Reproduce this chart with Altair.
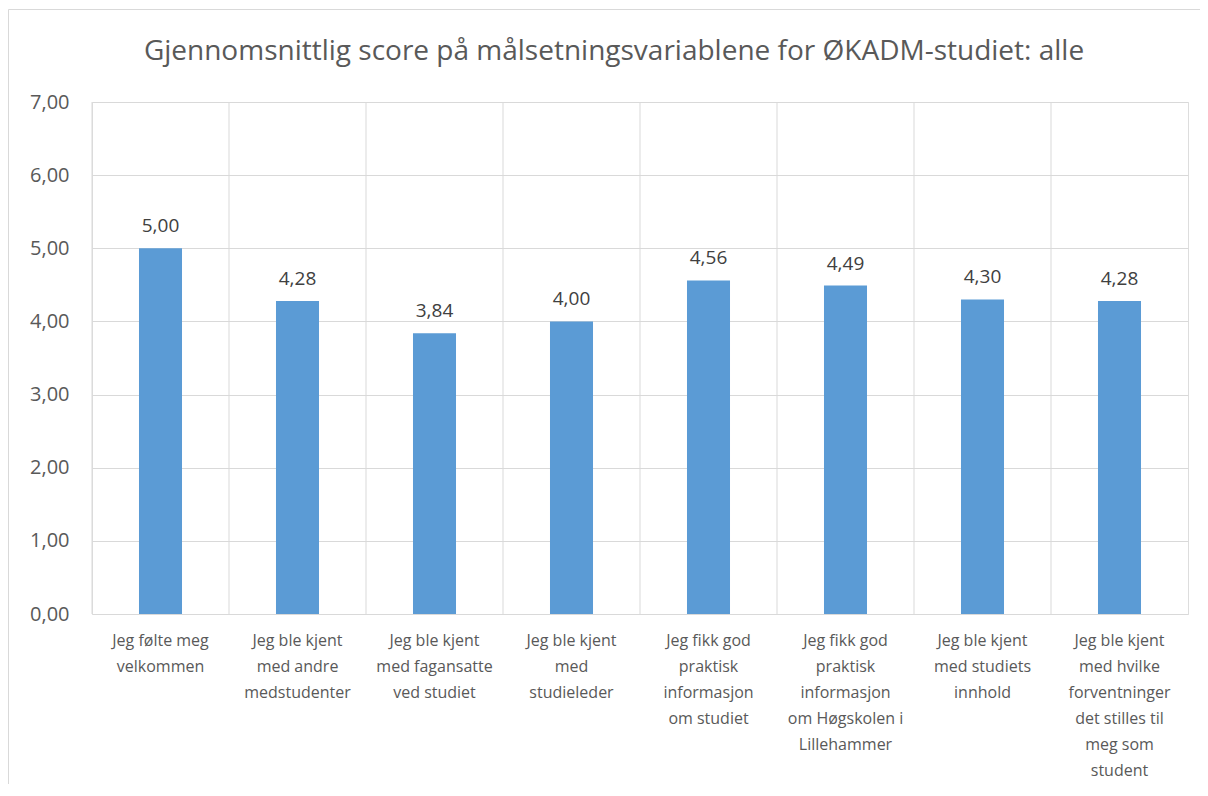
import altair as alt
import pandas as pd

title_text = "Gjennomsnittlig score på målsetningsvariablene for ØKADM-studiet: alle"
categories = [
    "Jeg følte meg\nvelkommen",
    "Jeg ble kjent\nmed andre\nmedstudenter",
    "Jeg ble kjent\nmed fagansatte\nved studiet",
    "Jeg ble kjent\nmed\nstudieleder",
    "Jeg fikk god\npraktisk\ninformasjon\nom studiet",
    "Jeg fikk god\npraktisk\ninformasjon\nom Høgskolen i\nLillehammer",
    "Jeg ble kjent\nmed studiets\ninnhold",
    "Jeg ble kjent\nmed hvilke\nforventninger\ndet stilles til\nmeg som\nstudent",
]
scores = [5.00, 4.28, 3.84, 4.00, 4.56, 4.49, 4.30, 4.28]
y_ticks = [0, 1, 2, 3, 4, 5, 6, 7]

df = pd.DataFrame({"cat": categories, "score": scores})

FONT = "Open Sans"
TEXT = "#595959"
GRID = "#d9d9d9"
W, H = 1096, 512

x_axis = alt.Axis(
    title=None, labelAngle=0, domain=False, ticks=False,
    labelExpr="split(datum.label, '\\n')", labelFont=FONT, labelFontSize=16,
    labelLineHeight=26, labelColor=TEXT, labelPadding=18, labelLimit=0,
    labelBaseline="top", grid=False,
)
x_scale = alt.Scale(paddingInner=0, paddingOuter=0)

base = alt.Chart(df)

vgrid = base.mark_rule(color=GRID, strokeWidth=1).encode(
    x=alt.X("cat:N", sort=categories, scale=x_scale, axis=x_axis, bandPosition=0)
)

bars = base.mark_bar(color="#5b9bd5", width=alt.RelativeBandSize(0.314)).encode(
    x=alt.X("cat:N", sort=categories, scale=x_scale, axis=x_axis),
    y=alt.Y(
        "score:Q",
        scale=alt.Scale(domain=[0, 7], nice=False),
        axis=alt.Axis(
            title=None, values=y_ticks, domain=False, ticks=False,
            labelExpr="replace(format(datum.value, '.2f'), '.', ',')",
            labelFont=FONT, labelFontSize=20, labelColor=TEXT, labelPadding=23,
            gridColor=GRID, gridWidth=1,
        ),
    ),
)

labels = base.mark_text(
    dy=-16, baseline="alphabetic", font=FONT, fontSize=19, color="#404040"
).transform_calculate(
    lab="replace(format(datum.score, '.2f'), '.', ',')"
).encode(
    x=alt.X("cat:N", sort=categories, scale=x_scale, axis=x_axis),
    y=alt.Y("score:Q"),
    text="lab:N",
)

first = "datum.cat == '" + categories[0].replace("\n", "\\n") + "'"
frame_top = base.mark_rule(color=GRID, strokeWidth=1).encode(
    x=alt.value(-83.5), x2=alt.value(W + 200), y=alt.value(-92.5)
).transform_filter(first)
frame_left = base.mark_rule(color=GRID, strokeWidth=1).encode(
    x=alt.value(-83.5), y=alt.value(-92.5), y2=alt.value(H + 400)
).transform_filter(first)

chart = alt.layer(vgrid, bars, labels, frame_top, frame_left).properties(
    width=W, height=H,
    title=alt.TitleParams(
        title_text, font=FONT, fontSize=28, fontWeight="normal", color=TEXT,
        anchor="middle", frame="group", dx=-26, offset=-79, baseline="alphabetic",
    ),
    autosize=alt.AutoSizeParams(type="none"),
    padding={"left": 84, "top": 94, "right": 12, "bottom": 170},
).configure_view(stroke=GRID, strokeWidth=1).configure(background="white")

chart.save("out.html", embed_options={"renderer": "svg", "actions": False})
